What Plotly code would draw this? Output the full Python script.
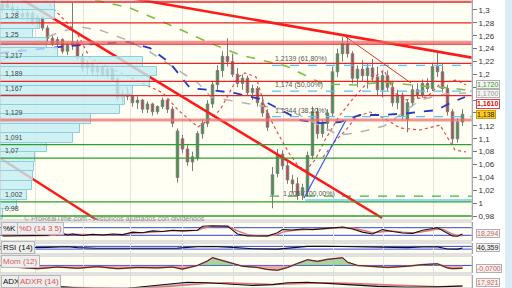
import plotly.graph_objects as go

# ---------------- price data (one bar per index) ----------------
opens = [1.302, 1.309, 1.304, 1.299, 1.294, 1.290, 1.295, 1.280, 1.288, 1.272,
         1.256, 1.248, 1.254, 1.236, 1.246, 1.250, 1.226, 1.210, 1.216, 1.204,
         1.212, 1.200, 1.208, 1.192, 1.164, 1.170, 1.166, 1.156, 1.160, 1.146,
         1.154, 1.142, 1.150, 1.160, 1.146, 1.040, 1.100, 1.084, 1.064, 1.070,
         1.108, 1.124, 1.154, 1.184, 1.206, 1.228, 1.220, 1.200, 1.186, 1.194,
         1.172, 1.178, 1.156, 1.140, 1.013, 1.046, 1.076, 1.058, 1.036, 1.030,
         1.012, 1.018, 1.074, 1.142, 1.108, 1.124, 1.140, 1.204, 1.232, 1.248,
         1.232, 1.194, 1.208, 1.198, 1.210, 1.196, 1.176, 1.198, 1.180, 1.156,
         1.168, 1.130, 1.156, 1.176, 1.168, 1.186, 1.178, 1.212, 1.204, 1.178,
         1.142, 1.100, 1.126]
highs = [1.316, 1.318, 1.312, 1.306, 1.302, 1.300, 1.298, 1.292, 1.290, 1.276,
         1.262, 1.258, 1.256, 1.250, 1.311, 1.254, 1.232, 1.222, 1.220, 1.216,
         1.214, 1.212, 1.210, 1.196, 1.176, 1.180, 1.172, 1.166, 1.162, 1.158,
         1.156, 1.152, 1.164, 1.162, 1.150, 1.116, 1.106, 1.090, 1.080, 1.112,
         1.130, 1.160, 1.190, 1.214, 1.236, 1.256, 1.232, 1.210, 1.200, 1.198,
         1.184, 1.182, 1.166, 1.146, 1.056, 1.084, 1.082, 1.066, 1.044, 1.040,
         1.030, 1.080, 1.150, 1.148, 1.130, 1.146, 1.212, 1.240, 1.258, 1.258,
         1.236, 1.214, 1.222, 1.216, 1.224, 1.212, 1.204, 1.206, 1.190, 1.176,
         1.172, 1.160, 1.184, 1.186, 1.192, 1.194, 1.218, 1.234, 1.216, 1.184,
         1.146, 1.132, 1.146]
lows = [1.296, 1.300, 1.296, 1.290, 1.285, 1.282, 1.276, 1.272, 1.268, 1.250,
        1.244, 1.240, 1.232, 1.230, 1.238, 1.222, 1.204, 1.200, 1.198, 1.196,
        1.196, 1.194, 1.188, 1.158, 1.152, 1.160, 1.150, 1.146, 1.140, 1.140,
        1.136, 1.138, 1.146, 1.140, 1.118, 1.032, 1.078, 1.058, 1.050, 1.066,
        1.100, 1.118, 1.148, 1.176, 1.196, 1.212, 1.196, 1.180, 1.176, 1.168,
        1.160, 1.150, 1.134, 1.112, 0.992, 1.040, 1.052, 1.030, 1.016, 1.005,
        1.005, 1.010, 1.068, 1.100, 1.102, 1.112, 1.134, 1.196, 1.220, 1.226,
        1.186, 1.180, 1.190, 1.178, 1.190, 1.168, 1.164, 1.174, 1.150, 1.146,
        1.130, 1.110, 1.150, 1.162, 1.164, 1.172, 1.174, 1.196, 1.172, 1.136,
        1.092, 1.094, 1.120]
closes = [1.309, 1.304, 1.299, 1.294, 1.290, 1.295, 1.280, 1.288, 1.272, 1.256,
          1.248, 1.254, 1.236, 1.246, 1.250, 1.226, 1.210, 1.216, 1.204, 1.212,
          1.200, 1.208, 1.192, 1.164, 1.170, 1.166, 1.156, 1.160, 1.146, 1.154,
          1.142, 1.150, 1.160, 1.146, 1.124, 1.112, 1.084, 1.064, 1.072, 1.108,
          1.124, 1.154, 1.184, 1.206, 1.228, 1.220, 1.200, 1.186, 1.194, 1.172,
          1.178, 1.156, 1.140, 1.118, 1.044, 1.076, 1.058, 1.036, 1.030, 1.012,
          1.024, 1.074, 1.142, 1.108, 1.124, 1.140, 1.204, 1.232, 1.248, 1.232,
          1.194, 1.208, 1.198, 1.210, 1.196, 1.176, 1.198, 1.180, 1.156, 1.168,
          1.136, 1.156, 1.176, 1.168, 1.186, 1.178, 1.212, 1.204, 1.178, 1.142,
          1.100, 1.126, 1.138]
bar_idx = list(range(len(closes)))

price_ticks = [0.98, 1.0, 1.02, 1.04, 1.06, 1.08, 1.1, 1.12, 1.14, 1.16,
               1.18, 1.2, 1.22, 1.24, 1.26, 1.28, 1.3]
ticks_hidden_by_tags = [1.14, 1.16, 1.18]
grid_idx = [6.5, 16.1, 25.5, 35.9, 46.1, 56.1, 66.1, 76.1, 86.1]

# horizontal levels
res_levels = [1.3124, 1.28, 1.247, 1.217, 1.189, 1.167]
zone_levels = [1.25, 1.129]
sup_levels = [1.091, 1.07, 1.002, 0.98]
level_labels = [1.28, 1.25, 1.217, 1.189, 1.167, 1.129, 1.091, 1.07, 1.002, 0.98]

# volume profile (price bins / volume)
vp_price = [1.3077, 1.2930, 1.2782, 1.2635, 1.2487, 1.2340, 1.2192, 1.2044,
            1.1897, 1.1749, 1.1602, 1.1454, 1.1307, 1.1159, 1.1011, 1.0864,
            1.0716, 1.0569, 1.0421, 1.0274, 1.0126, 0.9978, 0.9831]
vp_volume = [55, 55, 40, 33, 47, 58, 143, 157, 150, 133, 125, 120, 91, 80,
             73, 47, 35, 34, 33, 32, 27, 17, 3]

# moving averages
ma_blue_x = [-0.5, 7.5, 15.5, 25.1, 29.5, 33.5, 37.5, 41.5, 46.5, 51.5, 56.5,
             59.5, 63.5, 67.5, 71.5, 76.3, 81.5, 86.9, 89.5, 92.5]
ma_blue_y = [1.2332, 1.2394, 1.2456, 1.2503, 1.2409, 1.2176, 1.1788, 1.1757,
             1.1710, 1.1617, 1.1415, 1.1291, 1.1244, 1.1260, 1.1369, 1.1369,
             1.1400, 1.1446, 1.1555, 1.1648]
ma_green_x = [18.5, 25.5, 33.5, 41.5, 47.5, 53.5, 56.7, 64.1, 70.5, 76.3, 83.5, 89.5, 92.7]
ma_green_y = [1.3155, 1.3031, 1.2767, 1.2487, 1.2301, 1.2192, 1.2130, 1.1850,
              1.1835, 1.1881, 1.1820, 1.1790, 1.1757]
ma_gray_x = [-0.5, 3.5, 7.5, 11.5, 15.5, 19.5, 24.9, 29.5, 33.5, 39.1, 41.7, 49.5,
             57.3, 62.1, 67.3, 70.7, 76.3, 79.5, 83.5, 88.5, 92.7]
ma_gray_y = [1.2192, 1.2378, 1.2534, 1.2658, 1.2736, 1.2689, 1.2534, 1.2347,
             1.2145, 1.1866, 1.1648, 1.1540, 1.1446, 1.1260, 1.1058, 1.1089,
             1.1198, 1.1369, 1.1602, 1.1695, 1.1711]
band_up_x = [8.5, 11.5, 14.9, 17.5, 21.5, 25.9, 32.1, 35.1, 39.1, 41.7, 43.5, 47.1,
             48.5, 50.7, 52.7, 54.7, 57.3, 59.3, 60.7, 62.5, 64.5, 67.5, 70.7,
             73.5, 76.3, 78.5, 80.5, 84.9, 87.7, 90.9, 92.7]
band_up_y = [1.3155, 1.2922, 1.2642, 1.2254, 1.2099, 1.1943, 1.1710, 1.1446,
             1.1182, 1.1322, 1.1446, 1.1959, 1.2021, 1.1959, 1.1446, 1.1136,
             1.0778, 1.0561, 1.0514, 1.0670, 1.0980, 1.1369, 1.1679, 1.1912,
             1.2068, 1.1710, 1.1602, 1.1648, 1.1866, 1.1912, 1.1835]
band_lo_x = [64.1, 66.7, 68.7, 70.7, 73.5, 76.3, 79.5, 83.5, 87.5, 90.5, 92.7]
band_lo_y = [1.0716, 1.0980, 1.1136, 1.1338, 1.1415, 1.1322, 1.1167, 1.1136,
             1.1213, 1.0825, 1.0794]

# drawn trend lines (start/end bar index and price)
tl_a_x, tl_a_y = [-0.5, 75.9], [1.3372, 0.9769]
tl_b_x, tl_b_y = [20.0, 93.9], [1.3259, 1.2260]
tl_c_x, tl_c_y = [-0.5, 19.5], [1.0701, 0.9706]
tl_d_x, tl_d_y = [68.7, 81.7], [1.2580, 1.1866]
tl_blue_x, tl_blue_y = [60.3, 68.7], [1.0079, 1.1290]

# fibonacci
fib_levels = [1.2139, 1.174, 1.1344]
fib_text = ["1,2139 (61,80%)", "1,174 (50,00%)", "1,1344 (38,20%)"]
fib_start = 53.9
fib_low = 1.005
fib_low_text = "1,005 (100,00%)"
fib_low_start = 60.5
green_dash_level = 1.011
green_dash_start = 53.5
x_end = 93.9

# indicators
stoch_x = [0, 3, 6, 9, 10, 11, 12, 13, 14, 16, 18, 20, 22, 24, 26, 28, 30, 32, 34, 36,
           38, 39, 40, 42, 45, 47, 49, 51, 53, 55, 56, 58, 60, 62, 64, 66, 68, 70, 72, 74,
           76, 78, 80, 82, 84, 87, 88, 90, 91, 92]
stoch_k = [15, 14, 18, 20, 30, 25, 35, 22, 30, 18, 28, 22, 30, 25, 45, 40, 55, 50, 60, 55,
           62, 60, 92, 95, 92, 30, 15, 14, 15, 40, 65, 62, 70, 65, 72, 82, 85, 70, 45, 30,
           65, 50, 38, 35, 60, 80, 60, 14, 12, 30]
stoch_d = [18, 16, 16, 18, 22, 26, 28, 28, 28, 24, 24, 24, 26, 26, 35, 40, 48, 50, 55, 56,
           58, 60, 75, 90, 93, 55, 25, 16, 14, 25, 45, 58, 64, 66, 68, 75, 82, 78, 60, 40,
           48, 55, 45, 38, 48, 70, 68, 30, 18, 18.294]
rsi_x = [0, 5, 9, 13, 15, 19, 25, 31, 35, 39, 42, 46, 50, 55, 59, 61, 65, 69, 73, 77,
         81, 84, 87, 89, 91, 92]
rsi = [45, 46, 55, 65, 52, 42, 45, 48, 44, 65, 68, 55, 35, 30, 52, 70, 72, 68, 58, 55,
       52, 60, 62, 32, 30, 46.359]
mom_x = [0, 3, 7, 11, 15, 19, 23, 27, 31, 34, 36, 39, 41, 42, 44, 46, 48, 51, 53, 55,
         57, 59, 61, 63, 65, 68, 69, 71, 74, 77, 81, 84, 87, 89, 90, 92]
mom = [-0.02, -0.05, -0.08, -0.04, -0.07, -0.03, -0.08, -0.05, -0.06, -0.04,
       -0.09, 0.0, 0.11, 0.19, 0.12, 0.05, -0.02, -0.05, -0.10, -0.12,
       -0.05, 0.05, 0.14, 0.10, 0.15, 0.19, 0.08, 0.0, -0.03, -0.05,
       -0.02, 0.02, 0.04, -0.06, -0.08, -0.07]
adx_x = [9, 12, 15, 19, 25, 29, 33, 37, 41, 45, 50, 54, 57, 61, 65, 69, 75, 81, 87, 92]
adx = [14, 16, 14, 12, 13, 17, 21, 26, 25, 22, 19, 21, 25, 26, 24, 21, 17, 15, 16, 18]
adxr = [15, 15, 15, 14, 13, 14, 17, 21, 24, 25, 23, 21, 22, 24, 25, 24, 21, 18, 16, 17.921]

ma_green_last, ma_gray_last, ma_red_last = 1.172, 1.170, 1.161

# ---------------- figure ----------------
FONT = "Liberation Sans, Arial, sans-serif"
W, H = 512, 288
PX = 472  # plot right edge in px


def fmt(v, d=None):
    s = (f"{v:.{d}f}" if d is not None else f"{v:g}")
    return s.replace(".", ",")


def py(ypx):
    return 1 - ypx / H


fig = go.Figure()

# volume profile
fig.add_trace(go.Bar(y=vp_price, x=vp_volume, orientation="h", xaxis="x2", yaxis="y",
                     width=0.0142,
                     marker=dict(color="rgba(196,238,244,0.80)",
                                 line=dict(color="#8ccfdb", width=1)),
                     hoverinfo="skip", showlegend=False))

# moving averages / bands (under candles)
fig.add_trace(go.Scatter(x=ma_gray_x, y=ma_gray_y, mode="lines",
                         line=dict(color="#b4b4b4", width=1.5, dash="dash"),
                         hoverinfo="skip", showlegend=False))
fig.add_trace(go.Scatter(x=ma_green_x, y=ma_green_y, mode="lines",
                         line=dict(color="#79c043", width=1.6, dash="dash"),
                         hoverinfo="skip", showlegend=False))
fig.add_trace(go.Scatter(x=band_up_x, y=band_up_y, mode="lines",
                         line=dict(color="#e84848", width=1.2, dash="dot"),
                         hoverinfo="skip", showlegend=False))
fig.add_trace(go.Scatter(x=band_lo_x, y=band_lo_y, mode="lines",
                         line=dict(color="#e84848", width=1.2, dash="dot"),
                         hoverinfo="skip", showlegend=False))
fig.add_trace(go.Scatter(x=ma_blue_x, y=ma_blue_y, mode="lines",
                         line=dict(color="#2238c8", width=1.8, dash="dash"),
                         hoverinfo="skip", showlegend=False))

# candles
fig.add_trace(go.Candlestick(x=bar_idx, open=opens, high=highs, low=lows, close=closes,
                             increasing=dict(line=dict(color="#7a7a7a", width=1),
                                             fillcolor="#3f9a3f"),
                             decreasing=dict(line=dict(color="#7a7a7a", width=1),
                                             fillcolor="#b84a4c"),
                             whiskerwidth=0, hoverinfo="skip", showlegend=False))

# fib lines
for lv in fib_levels:
    fig.add_trace(go.Scatter(x=[fib_start, x_end], y=[lv, lv], mode="lines",
                             line=dict(color="#5cc4f0", width=1.2, dash="dash"),
                             hoverinfo="skip", showlegend=False))
fig.add_trace(go.Scatter(x=[green_dash_start, x_end], y=[green_dash_level] * 2, mode="lines",
                         line=dict(color="#3cb43c", width=1.3, dash="dash"),
                         hoverinfo="skip", showlegend=False))
fig.add_trace(go.Scatter(x=[fib_low_start, x_end], y=[fib_low] * 2, mode="lines",
                         line=dict(color="#70ccf0", width=1.5),
                         hoverinfo="skip", showlegend=False))

# trend lines
for xs, ys, col, wd in [(tl_a_x, tl_a_y, "#ff1a1a", 2.6), (tl_b_x, tl_b_y, "#ff1a1a", 2.6),
                        (tl_c_x, tl_c_y, "#ff1a1a", 2.4), (tl_d_x, tl_d_y, "#e83030", 1.0),
                        (tl_blue_x, tl_blue_y, "#3355ff", 1.2)]:
    fig.add_trace(go.Scatter(x=xs, y=ys, mode="lines", line=dict(color=col, width=wd),
                             hoverinfo="skip", showlegend=False))

# ---- stochastic panel ----
fig.add_trace(go.Scatter(x=stoch_x, y=stoch_d, yaxis="y2", mode="lines",
                         line=dict(color="#e87070", width=1.4), hoverinfo="skip", showlegend=False))
fig.add_trace(go.Scatter(x=stoch_x, y=stoch_k, yaxis="y2", mode="lines",
                         line=dict(color="#111111", width=1.1), hoverinfo="skip", showlegend=False))
# ---- RSI ----
fig.add_trace(go.Scatter(x=rsi_x, y=rsi, yaxis="y3", mode="lines",
                         line=dict(color="#111111", width=1.1), hoverinfo="skip", showlegend=False))
# ---- Momentum ----
mom_pos = [max(v, 0) for v in mom]
mom_neg = [min(v, 0) for v in mom]
fig.add_trace(go.Scatter(x=mom_x, y=mom_pos, yaxis="y4", mode="lines", fill="tozeroy",
                         fillcolor="rgba(120,190,110,0.65)", line=dict(width=0),
                         hoverinfo="skip", showlegend=False))
fig.add_trace(go.Scatter(x=mom_x, y=mom_neg, yaxis="y4", mode="lines", fill="tozeroy",
                         fillcolor="rgba(215,130,125,0.65)", line=dict(width=0),
                         hoverinfo="skip", showlegend=False))
fig.add_trace(go.Scatter(x=mom_x, y=mom, yaxis="y4", mode="lines",
                         line=dict(color="#e87070", width=1.6), hoverinfo="skip", showlegend=False))
fig.add_trace(go.Scatter(x=mom_x, y=mom, yaxis="y4", mode="lines",
                         line=dict(color="#222222", width=0.9), hoverinfo="skip", showlegend=False))
# ---- ADX ----
fig.add_trace(go.Scatter(x=adx_x, y=adxr, yaxis="y5", mode="lines",
                         line=dict(color="#e87070", width=1.5), hoverinfo="skip", showlegend=False))
fig.add_trace(go.Scatter(x=adx_x, y=adx, yaxis="y5", mode="lines", fill="tonexty",
                         fillcolor="rgba(110,125,180,0.45)",
                         line=dict(color="#111111", width=1.1), hoverinfo="skip", showlegend=False))

# ---------------- shapes ----------------
shapes = []
for lv in res_levels:
    shapes.append(dict(type="line", xref="x domain", yref="y", x0=0, x1=1, y0=lv, y1=lv,
                       line=dict(color="#ee2222", width=1.3)))
for lv in zone_levels:
    shapes.append(dict(type="line", xref="x domain", yref="y", x0=0, x1=1, y0=lv, y1=lv,
                       line=dict(color="rgba(238,110,110,0.75)", width=3)))
for lv in sup_levels:
    shapes.append(dict(type="line", xref="x domain", yref="y", x0=0, x1=1, y0=lv, y1=lv,
                       line=dict(color="#2f9e2f", width=1.3)))
# indicator reference lines
for ax, lv in [("y2", 80), ("y2", 20), ("y3", 70), ("y3", 30), ("y4", 0)]:
    shapes.append(dict(type="line", xref="x domain", yref=ax, x0=0, x1=1, y0=lv, y1=lv,
                       line=dict(color="#3344dd", width=1), layer="below"))
# panel frames
for ax in ["y", "y2", "y3", "y4", "y5"]:
    shapes.append(dict(type="rect", xref="x domain", yref=ax + " domain", x0=0, x1=1, y0=0, y1=1,
                       line=dict(color="#c4c4c4", width=1), fillcolor="rgba(0,0,0,0)"))
# right light-blue strip
shapes.append(dict(type="rect", xref="paper", yref="paper", x0=505 / W, x1=1, y0=0, y1=1,
                   fillcolor="#d9ecf8", line=dict(width=0), layer="below"))

# ---------------- annotations ----------------
ann = []
for lv in level_labels:
    ann.append(dict(xref="paper", yref="y", x=3 / W, y=lv, xanchor="left", yanchor="bottom",
                    yshift=2, text=fmt(lv), showarrow=False,
                    font=dict(size=7, color="#444", family=FONT)))
for lv, t in zip(fib_levels, fib_text):
    ann.append(dict(xref="x", yref="y", x=fib_start + 0.1, y=lv, xanchor="left", yanchor="bottom",
                    text=t, showarrow=False, font=dict(size=7, color="#555", family=FONT)))
ann.append(dict(xref="x", yref="y", x=fib_low_start - 4.8, y=fib_low, xanchor="left",
                yanchor="bottom", text=fib_low_text, showarrow=False,
                font=dict(size=7, color="#555", family=FONT)))
ann.append(dict(xref="paper", yref="paper", x=22 / W, y=py(218.5), xanchor="left", yanchor="middle",
                text="© ProRealTime.com - Históricos ajustados con dividendos", showarrow=False,
                font=dict(size=7, color="#8c8c8c", family=FONT)))


def box(text, ypx, color, bg="#f4f4f4", border="#b0b0b0", bold=False):
    return dict(xref="paper", yref="paper", x=476 / W, y=py(ypx),
                xanchor="left", yanchor="middle", showarrow=False,
                text=f"<b>{text}</b>" if bold else text,
                font=dict(size=7, color=color, family=FONT),
                bgcolor=bg, bordercolor=border, borderwidth=1, borderpad=0)


ann.append(box(fmt(ma_green_last, 4), 84, "#3a9a1a"))
ann.append(box(fmt(ma_gray_last, 4), 94, "#9a9a9a"))
ann.append(box(fmt(ma_red_last, 4), 104, "#d01010", bg="#ffffff", border="#e04040", bold=True))
ann.append(box(fmt(closes[-1], 3), 114.5, "#222222", bg="#ffcc22", border="#d0a000"))
ann.append(box(fmt(stoch_d[-1], 3), 233, "#e06060"))
ann.append(box(fmt(rsi[-1], 3), 247, "#222222"))
ann.append(box(fmt(mom[-1], 4), 268, "#e05050"))
ann.append(box(fmt(adxr[-1], 3), 282, "#e05050"))


def tag(text, xpx, ypx, color):
    return dict(xref="paper", yref="paper", x=xpx / W, y=py(ypx), xanchor="left",
                yanchor="middle", showarrow=False, text=text,
                font=dict(size=8, color=color, family=FONT),
                bgcolor="#eeeeee", bordercolor="#b8b8b8", borderwidth=1, borderpad=1)


ann += [tag("%K", 1, 228, "#111"), tag("%D (14 3 5)", 17, 228, "#e05050"),
        tag("RSI (14)", 1, 247, "#111"), tag("Mom (12)", 1, 261, "#e06060"),
        tag("ADX", 1, 281, "#111"), tag("ADXR (14)", 18, 281, "#e05050")]

# ---------------- layout ----------------
xdom = [0, PX / W]
common_y = dict(side="right", anchor="x", showgrid=False, zeroline=False, showline=True,
                linecolor="#8a8a8a", linewidth=1, fixedrange=True)
tick_text = ["" if v in ticks_hidden_by_tags else fmt(v) for v in price_ticks]
fig.update_layout(
    width=W, height=H, margin=dict(l=0, r=0, t=0, b=0),
    paper_bgcolor="#ffffff", plot_bgcolor="#fffff4",
    separators=",.", showlegend=False, bargap=0,
    font=dict(family=FONT, size=8, color="#333"),
    xaxis=dict(domain=xdom, range=[-0.5, x_end], showticklabels=False, ticks="",
               tickvals=grid_idx, showgrid=True, gridcolor="#e4e4e4", gridwidth=1,
               zeroline=False, showline=False, rangeslider=dict(visible=False)),
    xaxis2=dict(overlaying="x", anchor="y", range=[0, PX], visible=False),
    yaxis=dict(common_y, domain=[1 - 220 / H, 1], range=[0.9738, 1.3155],
               tickvals=price_ticks, ticktext=tick_text,
               ticks="outside", ticklen=4, tickcolor="#777",
               tickfont=dict(size=8, color="#333", family=FONT)),
    yaxis2=dict(common_y, domain=[1 - 241 / H, 1 - 222 / H], range=[-25, 125], showticklabels=False),
    yaxis3=dict(common_y, domain=[1 - 254 / H, 1 - 243 / H], range=[-41, 119], showticklabels=False),
    yaxis4=dict(common_y, domain=[1 - 273 / H, 1 - 256 / H], range=[-0.187, 0.233], showticklabels=False),
    yaxis5=dict(common_y, domain=[0, 1 - 275 / H], range=[13.5, 42], showticklabels=False),
    shapes=shapes, annotations=ann,
)

fig.write_html("out.html")
